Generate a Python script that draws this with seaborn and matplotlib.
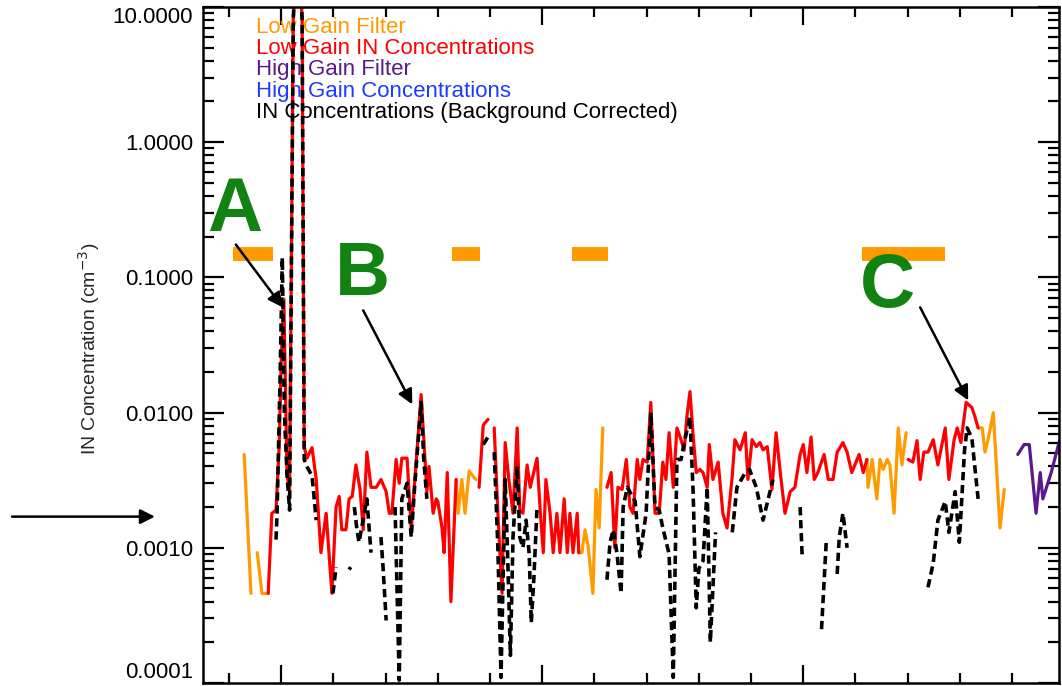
import numpy as np
import pandas as pd
import matplotlib
matplotlib.use("Agg")
import matplotlib.pyplot as plt
import seaborn as sns
from matplotlib.ticker import NullFormatter, LogLocator

nan = np.nan

# time in minutes, concentrations in cm^-3 (nan = gap in the record)
lowgain_filter_t = [0.8, 8.4, nan, 42.7, 48.1, nan, 65.7, 72.6, nan, 121.3, 137.2]
lowgain_filter_c = [0.148, 0.148, nan, 0.148, 0.148, nan, 0.148, 0.148, nan, 0.148, 0.148]

lowgain_orange_t = [2.9, 4.2, nan, 5.4, 6.3, 7.5, nan,
                    43.5, 43.9, 44.6, 45.2, 46.0, 46.7, 47.3, nan,
                    67.0, 67.6, 68.2, 68.8, 69.7, 70.3, 70.9, 71.6, nan,
                    122.2, 122.4, 123.2, 124.1, 124.7, 125.3, 126.1, 126.6, 127.4, 128.2, 128.9, 129.7, nan,
                    143.5, 144.3, 144.8, 145.4, 146.4, 147.7, 148.5]
lowgain_orange_c = [0.0049, 0.00046, nan, 0.00092, 0.00046, 0.00046, nan,
                    0.0032, 0.0018, 0.0032, 0.0018, 0.0037, 0.0034, 0.0032, nan,
                    0.00092, 0.00092, 0.00136, 0.00102, 0.00046, 0.0027, 0.0014, 0.0077, nan,
                    0.0045, 0.0028, 0.0045, 0.0023, 0.0045, 0.0038, 0.0045, 0.0041, 0.0018, 0.0077, 0.0041, 0.0071, nan,
                    0.0077, 0.0077, 0.0051, 0.0063, 0.0100, 0.0014, 0.0027]

lowgain_conc_t = [7.5, 8.2, 9.0, 9.6, 10.0, 10.5, 11.1, 11.6, 12.3, 13.2, 14.0, 14.4, 14.9, 15.9, 16.7, 17.6,
                  18.6, 19.7, 20.5, 21.1, 21.6, 22.4, 23.0, 23.6, 24.3, 25.1, 25.7, 26.4, 27.2, 28.2, 29.1,
                  30.1, 30.7, 31.2, 32.0, 32.6, 33.1, 34.1, 34.9, 35.6, 36.8, 37.9, 38.3, 39.1, 39.7, 40.0,
                  40.8, 41.2, 41.8, 42.5, 43.5, nan,
                  47.9, 48.7, 49.6, nan,
                  50.8, 51.5, 52.3, 52.9, 53.6, 54.4, 55.2, 55.7, 56.3, 57.1, 57.7, 59.0, 59.6, 60.2, 60.7,
                  61.5, 62.1, 62.8, 63.4, 64.2, 64.8, 65.3, 65.9, 66.7, 67.0, nan,
                  72.4, 73.2, 73.9, 74.5, 75.3, 76.1, 76.8, 77.4, 78.2, 78.7, 79.3, 80.1, 80.8, 81.6, 82.4,
                  83.1, 83.7, 84.3, 85.1, 85.8, 86.4, 87.2, 87.7, 88.3, 88.9, 89.5, 90.2, 90.8, 91.6, 92.0,
                  92.7, 93.7, 94.6, 95.4, 96.4, 96.9, 97.9, 98.9, 99.4, 100.2, 101.0, 101.7, 102.3, 103.1,
                  104.0, 104.8, 105.6, 106.5, 107.5, 108.4, 109.4, 110.0, 110.7, 111.5, 112.1, 112.8, 114.0,
                  114.8, 115.7, 116.5, 117.6, 118.4, 119.3, 120.1, 120.7, 121.5, 122.2, nan,
                  130.1, 131.0, 131.8, 132.4, 133.1, 133.9, 134.9, 135.8, 137.2, 137.9, 138.9, 139.5, 140.2,
                  141.2, 142.3, 142.9, 143.5]
lowgain_conc_c = [0.00046, 0.0018, 0.0019, 0.0056, 0.025, 0.069, 0.0035, 0.0026, 8.0, 50.0, 8.0, 0.0056, 0.0046, 0.0055, 0.0032, 0.00092,
                  0.0018, 0.00046, 0.0020, 0.0024, 0.00136, 0.00136, 0.0023, 0.0024, 0.0041, 0.0027, 0.00136, 0.0051, 0.0028, 0.0028, 0.0032,
                  0.0026, 0.0018, 0.0018, 0.0045, 0.0030, 0.0046, 0.0046, 0.00136, 0.0032, 0.0136, 0.0026, 0.0040, 0.0018, 0.0023, 0.0022,
                  0.0014, 0.00092, 0.0036, 0.0004, 0.0032, nan,
                  0.0028, 0.0081, 0.0089, nan,
                  0.0077, 0.0018, 0.00046, 0.0060, 0.0032, 0.0018, 0.0077, 0.0019, 0.0018, 0.0041, 0.0028, 0.0046, 0.0019, 0.00092, 0.0032,
                  0.0018, 0.00092, 0.0018, 0.00092, 0.0023, 0.00092, 0.0018, 0.00092, 0.0018, 0.00092, nan,
                  0.0028, 0.0036, 0.0010, 0.0028, 0.0027, 0.0045, 0.0020, 0.0018, 0.0045, 0.0032, 0.0045, 0.0043, 0.0119, 0.0018, 0.0018,
                  0.0043, 0.0032, 0.0071, 0.0028, 0.0077, 0.0066, 0.0053, 0.0093, 0.0143, 0.0068, 0.0036, 0.0038, 0.0036, 0.0028, 0.0058,
                  0.0032, 0.0043, 0.0018, 0.0014, 0.0034, 0.0063, 0.0053, 0.0071, 0.0032, 0.0063, 0.0056, 0.0060, 0.0053, 0.0056,
                  0.0027, 0.0071, 0.0036, 0.0018, 0.0026, 0.0028, 0.0049, 0.0058, 0.0036, 0.0066, 0.0032, 0.0036, 0.0049,
                  0.0032, 0.0032, 0.0051, 0.0060, 0.0051, 0.0036, 0.0043, 0.0049, 0.0036, 0.0045, nan,
                  0.0045, 0.0043, 0.0062, 0.0032, 0.0051, 0.0051, 0.0063, 0.0041, 0.0077, 0.0032, 0.0063, 0.0077, 0.0060,
                  0.0119, 0.0109, 0.0093, 0.0077]

highgain_t = [151.1, 152.3, 153.3, 154.6, 155.4, 155.9, 157.5, 159.0, 160.0]
highgain_c = [0.0049, 0.0058, 0.0058, 0.0018, 0.0036, 0.0023, 0.0036, 0.0060, 0.0075]

corrected_t = [9.0, 9.2, 9.8, 10.2, 10.6, 11.1, 11.6, 12.3, 13.2, 14.0, 14.4, 14.9, 15.9, 16.7, nan,
               19.9, 20.5, nan, 23.0, 23.3, nan, 24.0, 24.5, 24.9, 26.4, 27.2, nan, 29.1, 29.5, 30.1, nan,
               31.8, 32.6, 33.1, 34.1, 34.9, 35.6, 36.8, 37.3, 37.9, nan,
               48.7, 49.6, nan,
               50.8, 51.5, 52.1, 52.9, 53.4, 53.9, 54.4, 55.2, 55.7, 56.3, 56.9, 57.5, 57.9, 58.4, 59.0, nan,
               72.4, 73.0, 73.6, 74.3, 75.1, 75.5, 76.3, 77.8, 78.7, 79.9, 80.8, 81.6, 82.4, 83.1, 84.3, 85.1,
               85.8, 86.6, 87.2, 88.3, 88.9, 89.5, 90.0, 90.8, 91.6, 92.2, 93.2, nan,
               96.4, 97.3, 98.9, 99.7, 101.0, 102.3, 104.2, nan,
               109.4, 109.8, nan, 113.5, 114.4, nan, 116.5, 116.9, 117.6, 118.4, nan,
               133.9, 134.9, 135.8, 137.2, 137.9, 139.1, 139.9, 140.9, 141.4, 142.3, 143.5]
corrected_c = [0.00115, 0.0018, 0.02, 0.14, 0.01, 0.0035, 0.0019, 8.0, 50.0, 8.0, 0.0045, 0.0040, 0.0034, 0.0016, nan,
               0.00046, 0.00072, nan, 0.00069, 0.00072, nan, 0.0020, 0.00136, 0.0011, 0.0023, 0.00092, nan, 0.0012, 0.00072, 0.00029, nan,
               0.0020, 0.000105, 0.0023, 0.0030, 0.0012, 0.0030, 0.0119, 0.0045, 0.0023, nan,
               0.0058, 0.0066, nan,
               0.0051, 0.0010, 0.00011, 0.0032, 0.0008, 0.00016, 0.0012, 0.0040, 0.0012, 0.0010, 0.0016, 0.0009, 0.00028, 0.0006, 0.0020, nan,
               0.00058, 0.0011, 0.00136, 0.00092, 0.00046, 0.0020, 0.0028, 0.0022, 0.00086, 0.0018, 0.0100, 0.0020, 0.0019, 0.0014, 0.0009, 0.00011,
               0.0045, 0.0045, 0.0060, 0.0093, 0.0026, 0.00036, 0.0007, 0.0008, 0.0028, 0.0002, 0.0013, nan,
               0.0013, 0.0028, 0.0036, 0.0038, 0.0028, 0.0016, 0.0032, nan,
               0.0020, 0.00086, nan, 0.00025, 0.0011, nan, 0.00064, 0.0012, 0.0018, 0.0010, nan,
               0.00051, 0.00077, 0.0016, 0.0022, 0.0013, 0.0026, 0.0011, 0.0053, 0.0077, 0.0065, 0.0023]

ytick_values = [1e-4, 1e-3, 1e-2, 1e-1, 1.0, 10.0]
ytick_labels = ["0.0001", "0.0010", "0.0100", "0.1000", "1.0000", "10.0000"]

legend_labels = ["Low Gain Filter", "Low Gain IN Concentrations", "High Gain Filter",
                 "High Gain Concentrations", "IN Concentrations (Background Corrected)"]

ORANGE = "#ff9a00"
RED = "#ff0000"
PURPLE = "#5a1a8a"
BLUE = "#1e3cff"
GREEN = "#128212"


def segments(t, c):
    df = pd.DataFrame({"t": t, "c": c})
    df["seg"] = df["c"].isna().cumsum()
    return df.dropna()


sns.set_style("ticks")
plt.rcParams["font.family"] = ["Liberation Sans", "DejaVu Sans"]

fig = plt.figure(figsize=(10.62, 6.86), dpi=100)
ax = fig.add_axes([0.1911, 0.0044, 0.8061, 0.9854])

line_kw = dict(x="t", y="c", units="seg", estimator=None, sort=False, legend=False, ax=ax)
sns.lineplot(data=segments(lowgain_filter_t, lowgain_filter_c), color=ORANGE, lw=10,
             solid_capstyle="butt", **line_kw)
sns.lineplot(data=segments(lowgain_orange_t, lowgain_orange_c), color=ORANGE, lw=2.3, **line_kw)
sns.lineplot(data=segments(lowgain_conc_t, lowgain_conc_c), color=RED, lw=2.3, **line_kw)
sns.lineplot(data=segments(highgain_t, highgain_c), color=PURPLE, lw=2.3, **line_kw)
sns.lineplot(data=segments(corrected_t, corrected_c), color="black", lw=2.6,
             linestyle=(0, (2.3, 1.3)), **line_kw)

ax.set_yscale("log")
ax.set_ylim(1e-4, 10)
ax.set_xlim(-5, 159)
ax.set_xlabel("")
ax.set_ylabel("IN Concentration (cm$^{-3}$)", fontsize=14)
ax.yaxis.set_label_coords(-0.118, 0.494)

ax.set_yticks(ytick_values, ytick_labels)
ax.yaxis.set_minor_locator(LogLocator(base=10, subs=np.arange(2, 10)))
ax.yaxis.set_minor_formatter(NullFormatter())
ax.set_xticks([10, 60, 110])
ax.set_xticks(np.arange(0, 160, 10), minor=True)
ax.tick_params(axis="both", which="both", direction="in", top=True, right=True,
               labelbottom=False, width=1.6, colors="black")
ax.tick_params(axis="y", which="major", length=15, labelsize=16, pad=7)
ax.tick_params(axis="y", which="minor", length=8)
ax.tick_params(axis="x", which="major", length=13)
ax.tick_params(axis="x", which="minor", length=7)
# keep the end labels inside the picture, as in the original
ylabels = ax.get_yticklabels()
ylabels[0].set_va("bottom")
ylabels[-1].set_va("top")
for sp in ax.spines.values():
    sp.set_linewidth(1.8)
    sp.set_color("black")

for i, (lab, col) in enumerate(zip(legend_labels, [ORANGE, RED, PURPLE, BLUE, "black"])):
    ax.text(0.062, 0.970 - 0.0315 * i, lab, color=col, fontsize=16, va="center",
            transform=ax.transAxes, zorder=1)

for letter, x, y in [("A", 1.0, 0.219), ("B", 25.5, 0.0736), ("C", 126.1, 0.060)]:
    ax.text(x, y, letter, color=GREEN, fontsize=55, fontweight="bold",
            ha="center", va="baseline", zorder=5)

arrow = dict(arrowstyle="-|>", color="black", lw=1.8, mutation_scale=22, shrinkA=0, shrinkB=0)
ax.annotate("", xy=(10.3, 0.060), xytext=(1.3, 0.175), arrowprops=arrow, zorder=6)
ax.annotate("", xy=(35.1, 0.0115), xytext=(25.7, 0.057), arrowprops=arrow, zorder=6)
ax.annotate("", xy=(141.6, 0.0123), xytext=(132.4, 0.060), arrowprops=arrow, zorder=6)
ax.annotate("", xy=(-0.056, 0.0017), xytext=(-0.223, 0.0017),
            xycoords=("axes fraction", "data"), textcoords=("axes fraction", "data"),
            arrowprops=arrow, annotation_clip=False)

fig.savefig("out.png", dpi=100)
